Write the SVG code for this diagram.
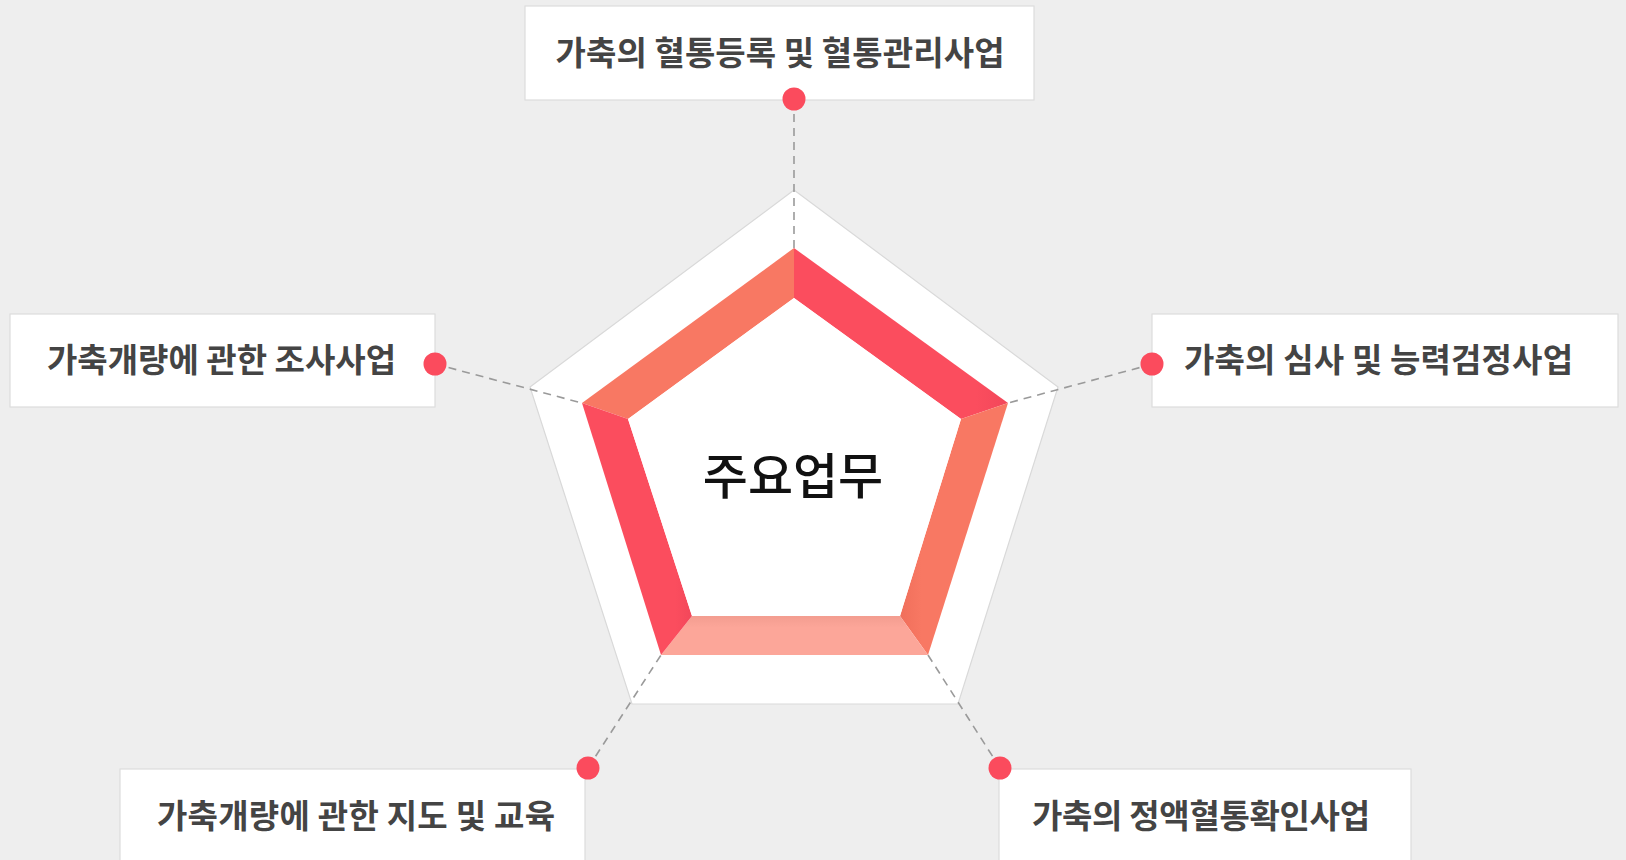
<svg xmlns="http://www.w3.org/2000/svg" width="1626" height="860" viewBox="0 0 1626 860">
<style>
.bg{fill:#eeeeee}
.box{fill:#ffffff;stroke:#dddddd;stroke-width:1.2}
.lbl{font-family:"Noto Sans CJK KR","Noto Sans",sans-serif;font-size:33px;font-weight:700;fill:#444444;text-anchor:middle;dominant-baseline:central}
.dot{fill:#fb4b5d}
.conn{stroke:#9a9a9a;stroke-width:1.6;stroke-dasharray:8 6;fill:none}
.outer{fill:#ffffff;stroke:#d9d9d9;stroke-width:1.2}
.title{font-family:"Noto Sans CJK KR","Noto Sans",sans-serif;font-size:49px;font-weight:500;fill:#111111;text-anchor:middle;dominant-baseline:central}
</style>
<defs>
<linearGradient id="gRed2" x1="0" y1="0" x2="1" y2="0">
<stop offset="0" stop-color="#fb4d5e"/><stop offset="0.85" stop-color="#fb4d5e"/><stop offset="1" stop-color="#f2475a"/>
</linearGradient>
<linearGradient id="gOr2" x1="0" y1="0" x2="1" y2="0">
<stop offset="0" stop-color="#f06f5b"/><stop offset="0.2" stop-color="#f87863"/><stop offset="1" stop-color="#f87863"/>
</linearGradient>
<linearGradient id="gSal" x1="0" y1="0" x2="0" y2="1">
<stop offset="0" stop-color="#f39d90"/><stop offset="0.3" stop-color="#fca699"/><stop offset="1" stop-color="#fca699"/>
</linearGradient>
</defs>
<rect class="bg" x="0" y="0" width="1626" height="860"/>

<g id="pentagon-base">
<polygon class="outer" points="794,190 1058,387 958,704 632,704 530,387"/>
</g>

<g id="connectors">
<line class="conn" x1="794" y1="100" x2="794" y2="250"/>
<line class="conn" x1="1153" y1="364" x2="1008" y2="403"/>
<line class="conn" x1="435" y1="364" x2="582" y2="403"/>
<line class="conn" x1="1000" y1="768" x2="928" y2="655"/>
<line class="conn" x1="588" y1="768" x2="661" y2="655"/>
</g>

<g id="center">
<polygon points="582,403 794,248 794,298 628,419" fill="#f87863"/>
<polygon points="794,248 1008,403 961,419 794,298" fill="url(#gRed2)"/>
<polygon points="1008,403 928,655 900,616 961,419" fill="url(#gOr2)"/>
<polygon points="928,655 661,655 692,616 900,616" fill="url(#gSal)"/>
<polygon points="661,655 582,403 628,419 692,616" fill="url(#gRed2)"/>
<polygon points="794,298 961,419 900,616 692,616 628,419" fill="#ffffff"/>
<text class="title" x="793" y="472">주요업무</text>
</g>

<g id="node-top">
<rect class="box" x="525" y="6" width="509" height="94"/>
<text class="lbl" x="780" y="51" textLength="449" lengthAdjust="spacing">가축의 혈통등록 및 혈통관리사업</text>
<circle class="dot" cx="794" cy="99" r="11.5"/>
</g>

<g id="node-left">
<rect class="box" x="10" y="314" width="425" height="93"/>
<text class="lbl" x="221.5" y="358" textLength="349" lengthAdjust="spacing">가축개량에 관한 조사사업</text>
<circle class="dot" cx="435" cy="364" r="11.5"/>
</g>

<g id="node-right">
<rect class="box" x="1152" y="314" width="466" height="93"/>
<text class="lbl" x="1378.5" y="358" textLength="389" lengthAdjust="spacing">가축의 심사 및 능력검정사업</text>
<circle class="dot" cx="1152" cy="364" r="11.5"/>
</g>

<g id="node-bottom-left">
<rect class="box" x="120" y="769" width="465" height="110"/>
<text class="lbl" x="356" y="814" textLength="398" lengthAdjust="spacing">가축개량에 관한 지도 및 교육</text>
<circle class="dot" cx="588" cy="768" r="11.5"/>
</g>

<g id="node-bottom-right">
<rect class="box" x="999" y="769" width="412" height="110"/>
<text class="lbl" x="1201" y="814" textLength="338" lengthAdjust="spacing">가축의 정액혈통확인사업</text>
<circle class="dot" cx="1000" cy="768" r="11.5"/>
</g>
</svg>
